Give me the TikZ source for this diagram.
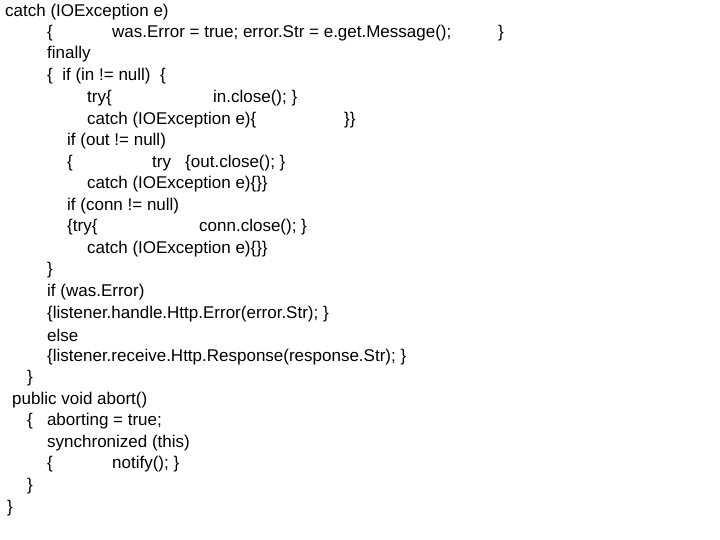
\documentclass[tikz,border=0pt]{standalone}
\usepackage{fontspec}
\setmainfont{Liberation Sans}
\begin{document}
\begin{tikzpicture}[x=1pt,y=-1pt,t/.style={anchor=west,inner sep=0pt,font=\fontsize{17}{20}\selectfont}]
\useasboundingbox[fill=white] (0,0) rectangle (720,540);
\node[t] (l1) at (5,12) {catch (IOException e)};
\node[t] (l2a) at (47,33) {\{};
\node[t] (l2b) at (112,33) {was.Error = true; error.Str = e.get.Message();};
\node[t] (l2c) at (498,33) {\}};
\node[t] (l3) at (47,54) {finally};
\node[t] (l4) at (47,76) {\{\ \ if (in != null)\ \ \{};
\node[t] (l5a) at (87,98) {try\{};
\node[t] (l5b) at (213,98) {in.close(); \}};
\node[t] (l6a) at (87,120) {catch (IOException e)\{};
\node[t] (l6b) at (344,120) {\}\}};
\node[t] (l7) at (67,141) {if (out != null)};
\node[t] (l8a) at (67,163) {\{};
\node[t] (l8b) at (152,163) {try\ \ \ \{out.close(); \}};
\node[t] (l9) at (87,184) {catch (IOException e)\{\}\}};
\node[t] (l10) at (67,206) {if (conn != null)};
\node[t] (l11a) at (67,227) {\{try\{};
\node[t] (l11b) at (199,227) {conn.close(); \}};
\node[t] (l12) at (87,249) {catch (IOException e)\{\}\}};
\node[t] (l13) at (47,270) {\}};
\node[t] (l14) at (47,292) {if (was.Error)};
\node[t] (l15) at (47,314) {\{listener.handle.Http.Error(error.Str); \}};
\node[t] (l16) at (47,335) {else};
\node[t] (l17) at (47,357) {\{listener.receive.Http.Response(response.Str); \}};
\node[t] (l18) at (27,378) {\}};
\node[t] (l19) at (12,400) {public void abort()};
\node[t] (l20) at (27,421) {\{\ \ \ aborting = true;};
\node[t] (l21) at (47,443) {synchronized (this)};
\node[t] (l22a) at (47,464) {\{};
\node[t] (l22b) at (112,464) {notify(); \}};
\node[t] (l23) at (27,486) {\}};
\node[t] (l24) at (7,508) {\}};
\end{tikzpicture}
\end{document}
